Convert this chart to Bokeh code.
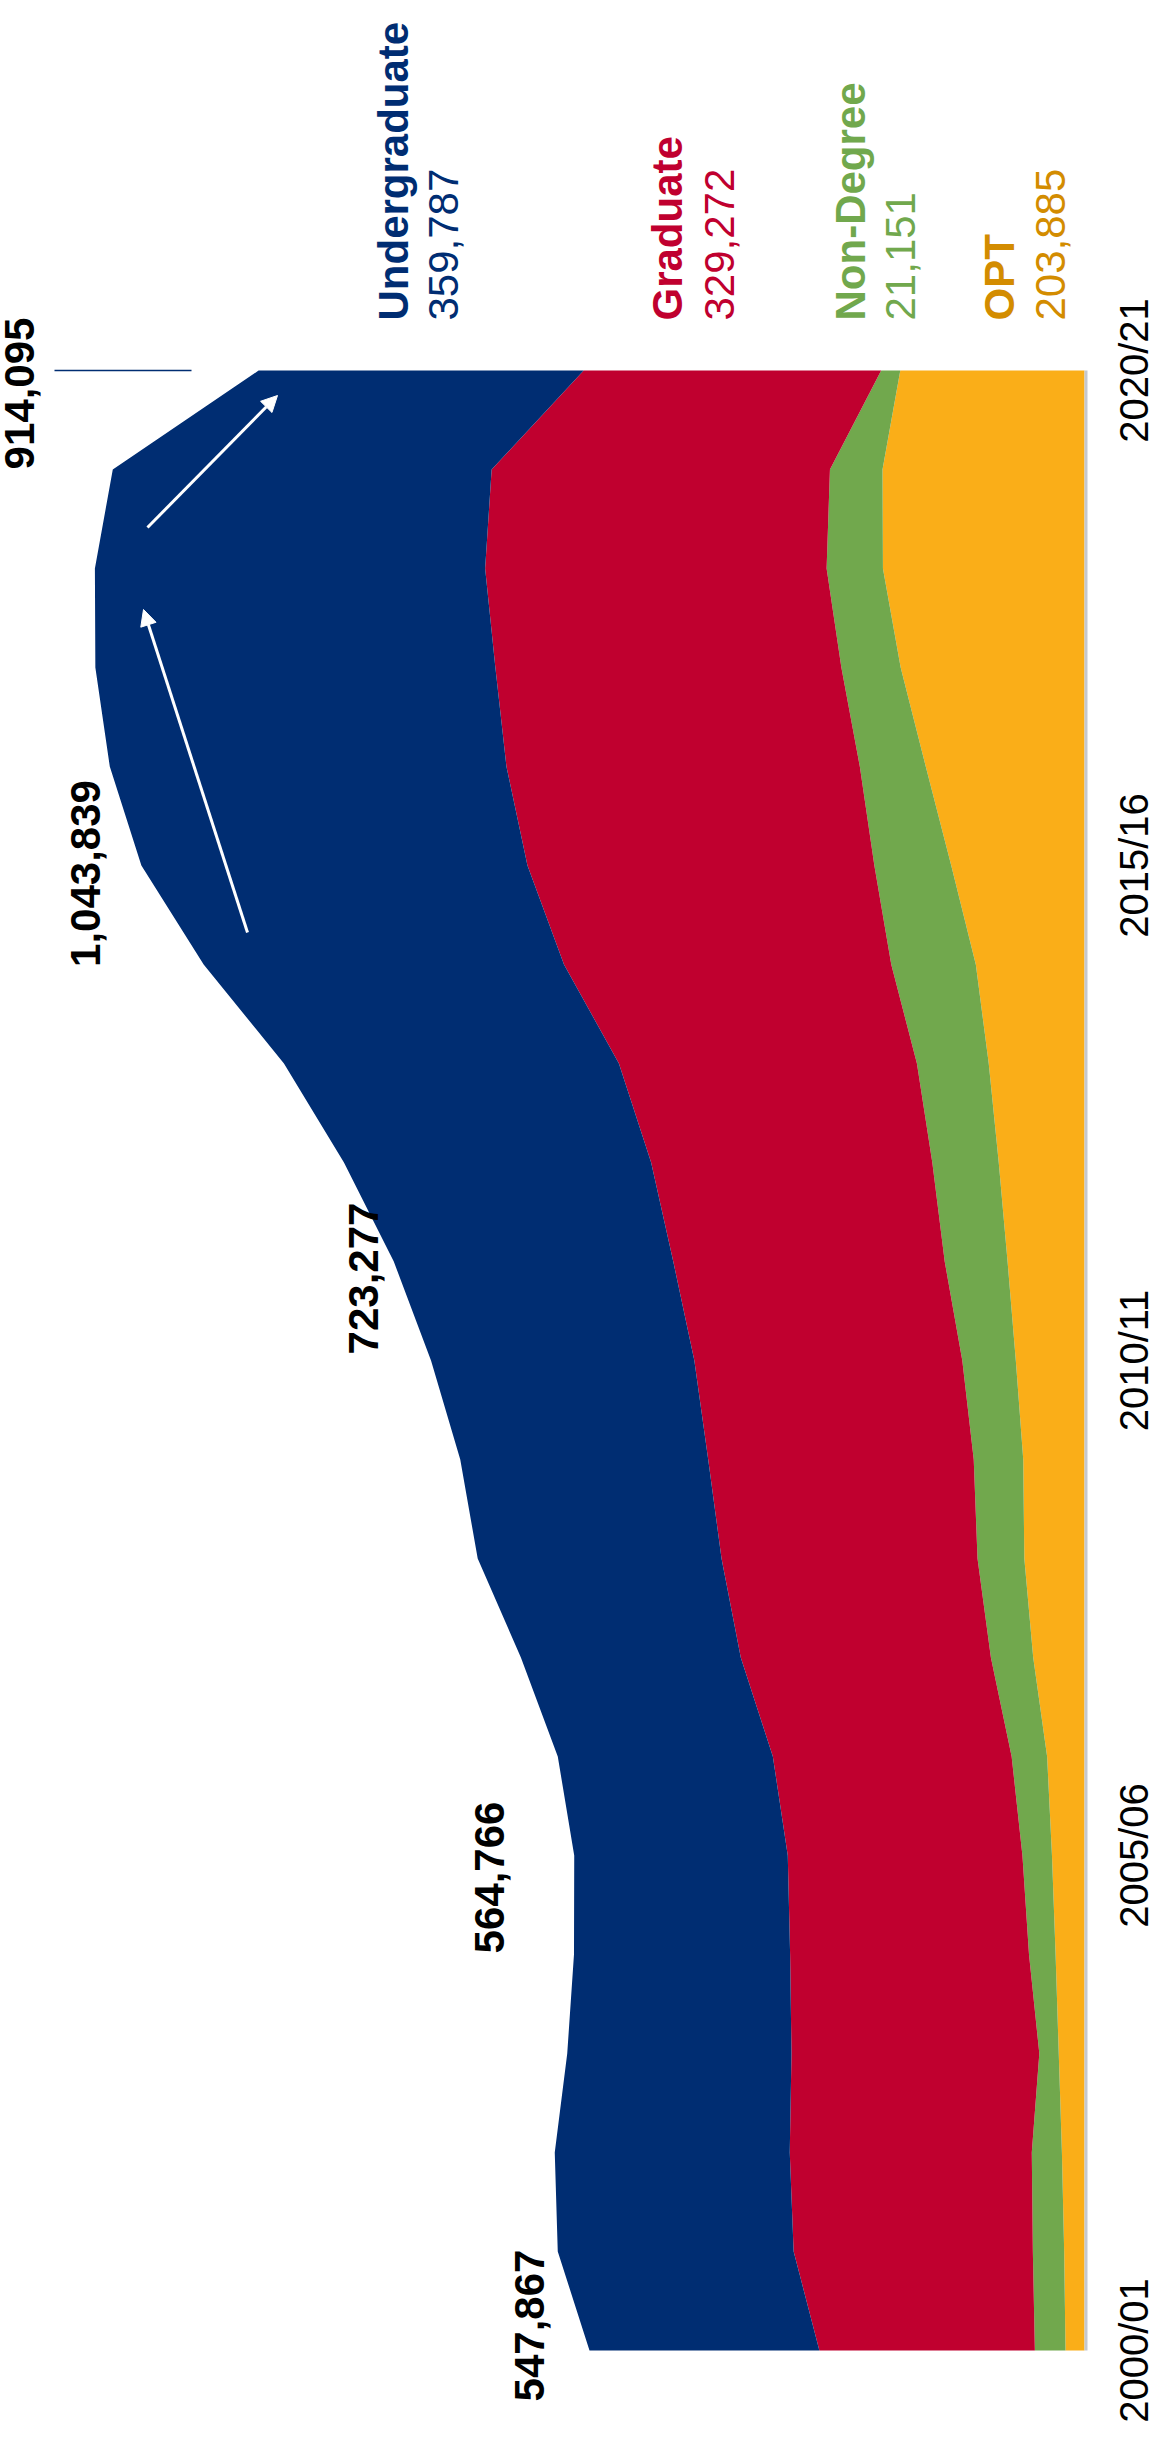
import math
from bokeh.plotting import figure
from bokeh.models import Range1d, Arrow, NormalHead, ColumnDataSource
from bokeh.core.properties import value
from bokeh.embed import file_html
from bokeh.resources import INLINE

# ---------------- data ----------------
years = ["2000/01", "2001/02", "2002/03", "2003/04", "2004/05", "2005/06", "2006/07",
         "2007/08", "2008/09", "2009/10", "2010/11", "2011/12", "2012/13", "2013/14",
         "2014/15", "2015/16", "2016/17", "2017/18", "2018/19", "2019/20", "2020/21"]
undergraduate = [254429, 261079, 260103, 248200, 239212, 236342, 238050, 243360, 269874, 274431,
                 291439, 309342, 339993, 370724, 398824, 427313, 439019, 442746, 431930, 419321, 359787]
graduate = [238497, 264749, 267876, 274310, 264410, 259717, 264288, 276842, 283329, 293885,
            296574, 300430, 311204, 329854, 362228, 383935, 391124, 382953, 377943, 374435, 329272]
non_degree = [33941, 34668, 33344, 21499, 29417, 32707, 39266, 46837, 51812, 54803,
              59233, 69566, 73528, 79477, 93587, 85093, 72984, 65631, 62341, 58201, 21151]
opt = [21000, 22500, 25000, 28500, 32000, 36000, 41380, 56766, 66601, 67804,
       76031, 85157, 94919, 105997, 120287, 147498, 175695, 203462, 223085, 223539, 203885]
tick_years = ["2000/01", "2005/06", "2010/11", "2015/16", "2020/21"]
total_label_years = ["2000/01", "2005/06", "2010/11", "2015/16", "2020/21"]
series_names = ["Undergraduate", "Graduate", "Non-Degree", "OPT"]

# ---------------- layout helpers (page pixels) ----------------
W, H = 1152, 2430
BASE_PX = 1092.0      # page x of the zero line
VPP = 1106.8          # students per pixel
Y0_PX = 2358.0        # page y of first year
YPP = 99.0            # pixels per year


def fx(px):
    return (BASE_PX - px) * VPP


def fy(py):
    return (Y0_PX - py) / YPP


NAVY = "#002D72"
RED = "#C0002F"
GREEN = "#71A84D"
ORANGE = "#FAAE18"
ORANGE_TXT = "#D38C00"
FONT = value("Liberation Sans")

idx = list(range(len(years)))
s0 = [0] * len(years)
s1 = [a for a in opt]
s2 = [a + b for a, b in zip(s1, non_degree)]
s3 = [a + b for a, b in zip(s2, graduate)]
s4 = [a + b for a, b in zip(s3, undergraduate)]
src = ColumnDataSource(dict(i=idx, s0=s0, s1=s1, s2=s2, s3=s3, s4=s4))

p = figure(width=W, height=H, output_backend="svg", toolbar_location=None,
           x_range=Range1d(fx(8), fx(8 + W)), y_range=Range1d(fy(8 + H), fy(8)),
           x_axis_location=None, y_axis_location=None, min_border=0)
p.grid.visible = False
p.outline_line_color = None
p.background_fill_color = "white"
p.border_fill_color = "white"

p.harea(y="i", x1="s0", x2="s1", source=src, fill_color=ORANGE)
p.harea(y="i", x1="s1", x2="s2", source=src, fill_color=GREEN)
p.harea(y="i", x1="s2", x2="s3", source=src, fill_color=RED)
p.harea(y="i", x1="s3", x2="s4", source=src, fill_color=NAVY)

# zero line
p.segment(x0=[-1.5 * VPP], x1=[-1.5 * VPP], y0=[0], y1=[len(years) - 1],
          line_color="#C4C8CF", line_width=3)

# year tick labels
ty = [years.index(t) for t in tick_years]
p.text(x=[fx(1141)] * len(ty), y=ty, text=tick_years, angle=math.pi / 2,
       text_font=FONT, text_font_size="40px", text_color="#000000",
       text_align="center", text_baseline="middle")

# total labels
lab_px = {"2000/01": (537, 2333), "2005/06": (497, 1885), "2010/11": (371, 1286),
          "2015/16": (93, 881), "2020/21": (27, 401)}
lx, ly, lt = [], [], []
for yv in total_label_years:
    k = years.index(yv)
    px, py = lab_px[yv]
    lx.append(fx(px))
    ly.append(fy(py))
    lt.append(f"{s4[k]:,}")
p.text(x=lx, y=ly, text=lt, angle=math.pi / 2, text_font=FONT, text_font_size="42px",
       text_font_style="bold", text_color="#000000", text_align="center", text_baseline="middle")

# leader line for the last total
last = len(years) - 1
p.segment(x0=[fx(62)], x1=[fx(199)], y0=[last], y1=[last], line_color=NAVY, line_width=1.5)

# series legend labels at the top
last_vals = [undergraduate[last], graduate[last], non_degree[last], opt[last]]
name_px = [401, 675, 858, 1007]
val_px = [451, 727, 908, 1058]
cols = [NAVY, RED, GREEN, ORANGE_TXT]
p.text(x=[fx(v) for v in name_px], y=[fy(328)] * 4, text=series_names, angle=math.pi / 2,
       text_font=FONT, text_font_size="42px", text_font_style="bold", text_color=cols,
       text_align="left", text_baseline="middle")
p.text(x=[fx(v) for v in val_px], y=[fy(328)] * 4, text=[f"{v:,}" for v in last_vals],
       angle=math.pi / 2, text_font=FONT, text_font_size="42px", text_color=cols,
       text_align="left", text_baseline="middle")

# white arrows
for (xs, ys, xe, ye) in [(255, 940, 151, 617), (155, 535, 285, 403)]:
    p.add_layout(Arrow(end=NormalHead(size=16, fill_color="white", line_color="white"),
                       x_start=fx(xs), y_start=fy(ys), x_end=fx(xe), y_end=fy(ye),
                       line_color="white", line_width=3))

open("out.html", "w").write(file_html(p, INLINE))
